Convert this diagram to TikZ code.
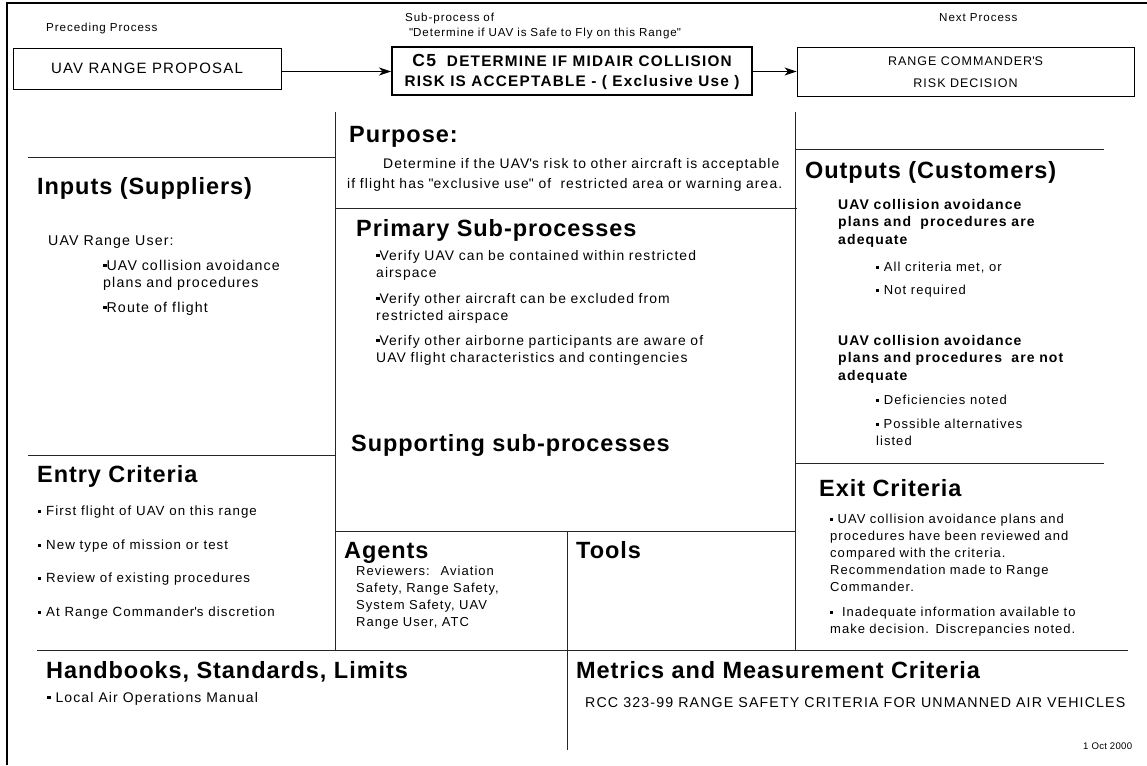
\documentclass[tikz,border=0pt]{standalone}
\usepackage{fontspec}
\setmainfont{Liberation Sans}[LetterSpace=8]
\newfontfamily\hdfont{Liberation Sans}[LetterSpace=4]
\newfontfamily\datefont{Liberation Sans}[LetterSpace=3]
\usetikzlibrary{arrows.meta}
\newcommand{\sqb}{\raisebox{0.2em}{\rule{0.24em}{0.24em}}}
\newcommand{\fs}[2]{\fontsize{#1}{#2}\selectfont}
\newcommand{\qd}{\textquotedbl}
\newcommand{\qs}{\textquotesingle}
\begin{document}
\begin{tikzpicture}[x=1pt,y=-1pt,
  tx/.style={anchor=base west, inner sep=0pt, font=\fs{13}{17}, align=left},
  txw/.style={tx, text width=#1},
  sm/.style={anchor=base west, inner sep=0pt, font=\fs{11.6}{15}, align=left},
  hd/.style={anchor=base west, inner sep=0pt, font=\hdfont\fs{23.5}{26}\bfseries},
  bx/.style={draw, line width=0.9pt, inner sep=0pt, align=center, font=\fs{13}{16}},
  rule/.style={line width=0.9pt, draw=black!85},
  arr/.style={line width=0.9pt, -{Stealth[length=12pt,width=8pt,inset=3.5pt]}}]
\useasboundingbox (0,0) rectangle (1147,765);
% frame
\draw[line width=2.5pt] (7,765) -- (7,3) -- (1147,3);
% header
\node[sm] (prectitle) at (46,32) {Preceding Process};
\node[sm, text width=300pt] (subtitle) at (405,22) {Sub-process of\\\ \qd Determine if UAV is Safe to Fly on this Range\qd};
\node[sm] (nexttitle) at (939,22) {Next Process};
\node[bx, minimum width=268pt, minimum height=41pt, font=\fs{15}{17}] (prev) at (147,68.5) {UAV RANGE PROPOSAL};
\node[bx, line width=2pt, minimum width=360pt, minimum height=48pt, font=\fs{15.3}{20}\bfseries] (cen) at (572,71.5)
  {{\fs{17.5}{20}C5}\ \ DETERMINE IF MIDAIR COLLISION\\RISK IS ACCEPTABLE - ( Exclusive Use )};
\node[bx, minimum width=337pt, minimum height=49pt, font=\fs{12.5}{22}] (nxt) at (965.5,72) {RANGE COMMANDER\qs S\\RISK DECISION};
\draw[arr] ([yshift=-3pt]prev.east) -- ([yshift=-3pt]prev.east -| cen.west);
\draw[arr] (cen.east) -- (cen.east -| nxt.west);
% grid lines
\draw[rule] (335,112) -- (335,650);
\draw[rule] (795,112) -- (795,650);
\draw[rule] (567,531) -- (567,750);
\draw[rule] (28,157) -- (335,157);
\draw[rule] (28,455) -- (335,455);
\draw[rule] (335,208) -- (797,208);
\draw[rule] (795,149) -- (1104,149);
\draw[rule] (795,463) -- (1104,463);
\draw[rule] (335,531) -- (795,531);
\draw[rule] (37,650) -- (1128,650);
% left column
\node[hd] (inh) at (37,194) {Inputs (Suppliers)};
\node[tx, font=\fs{14.2}{17}] (inuser) at (48,245) {UAV Range User:};
\node[txw=220pt, font=\fs{14.2}{17.5}] (inb1) at (103,270) {\sqb UAV collision avoidance\\plans and procedures};
\node[tx, font=\fs{14.2}{17}] (inb2) at (103,312) {\sqb Route of flight};
\node[hd] (enh) at (37,482) {Entry Criteria};
\node[tx, font=\fs{13.3}{17}] (en1) at (38,515.5) {\sqb\ First flight of UAV on this range};
\node[tx, font=\fs{13.3}{17}] (en2) at (38,549.5) {\sqb\ New type of mission or test};
\node[tx, font=\fs{13.3}{17}] (en3) at (38,582.5) {\sqb\ Review of existing procedures};
\node[tx, font=\fs{13.3}{17}] (en4) at (38,616.5) {\sqb\ At Range Commander\qs s discretion};
% middle column
\node[hd] (puh) at (349,142) {Purpose:};
\node[txw=450pt, font=\fs{13.9}{20}] (put) at (347,168) {\hspace*{36pt}Determine if the UAV\qs s risk to other aircraft is acceptable\\if flight has \qd exclusive use\qd\ of \ restricted area or warning area.};
\node[hd] (prh) at (356,236) {Primary Sub-processes};
\node[txw=420pt, font=\fs{13.9}{17.5}] (pr1) at (376,260) {\sqb Verify UAV can be contained within restricted\\airspace};
\node[txw=420pt, font=\fs{13.9}{17.5}] (pr2) at (376,303) {\sqb Verify other aircraft can be excluded from\\restricted airspace};
\node[txw=420pt, font=\fs{13.9}{17.5}] (pr3) at (376,345) {\sqb Verify other airborne participants are aware of\\UAV flight characteristics and contingencies};
\node[hd] (suh) at (351,451) {Supporting sub-processes};
\node[hd] (agh) at (344,558.5) {Agents};
\node[txw=200pt] (agt) at (356,575.5) {Reviewers: \ Aviation\\Safety, Range Safety,\\System Safety, UAV\\Range User, ATC};
\node[hd] (toh) at (576,558.5) {Tools};
% right column
\node[hd] (ouh) at (805,178) {Outputs (Customers)};
\node[txw=250pt, font=\fs{14}{17.5}\bfseries] (ou1) at (838,209) {UAV collision avoidance\\plans and \ procedures are\\adequate};
\node[tx] (oua) at (876,271.5) {\sqb\ All criteria met, or};
\node[tx] (oub) at (876,294.5) {\sqb\ Not required};
\node[txw=250pt, font=\fs{14}{17.5}\bfseries] (ou2) at (838,345) {UAV collision avoidance\\plans and procedures \ are not\\adequate};
\node[tx] (ouc) at (876,404.5) {\sqb\ Deficiencies noted};
\node[txw=200pt] (oud) at (876,428.5) {\sqb\ Possible alternatives\\listed};
\node[hd] (exh) at (819,496) {Exit Criteria};
\node[txw=300pt] (ex1) at (830,523.5) {\sqb\ UAV collision avoidance plans and\\procedures have been reviewed and\\compared with the criteria.\\Recommendation made to Range\\Commander.};
\node[txw=300pt] (ex2) at (830,616.5) {\sqb\ \ Inadequate information available to\\make decision. Discrepancies noted.};
% bottom
\node[hd] (hbh) at (46,678) {Handbooks, Standards, Limits};
\node[tx, font=\fs{14}{17}] (hbt) at (47,702) {\sqb\ Local Air Operations Manual};
\node[hd] (meh) at (576,678) {Metrics and Measurement Criteria};
\node[tx, font=\fs{14.2}{17}] (met) at (585,707) {RCC 323-99 RANGE SAFETY CRITERIA FOR UNMANNED AIR VEHICLES};
\node[anchor=base west, inner sep=0pt, font=\datefont\fs{9.6}{12}] (date) at (1083,749) {1 Oct 2000};
\end{tikzpicture}
\end{document}
